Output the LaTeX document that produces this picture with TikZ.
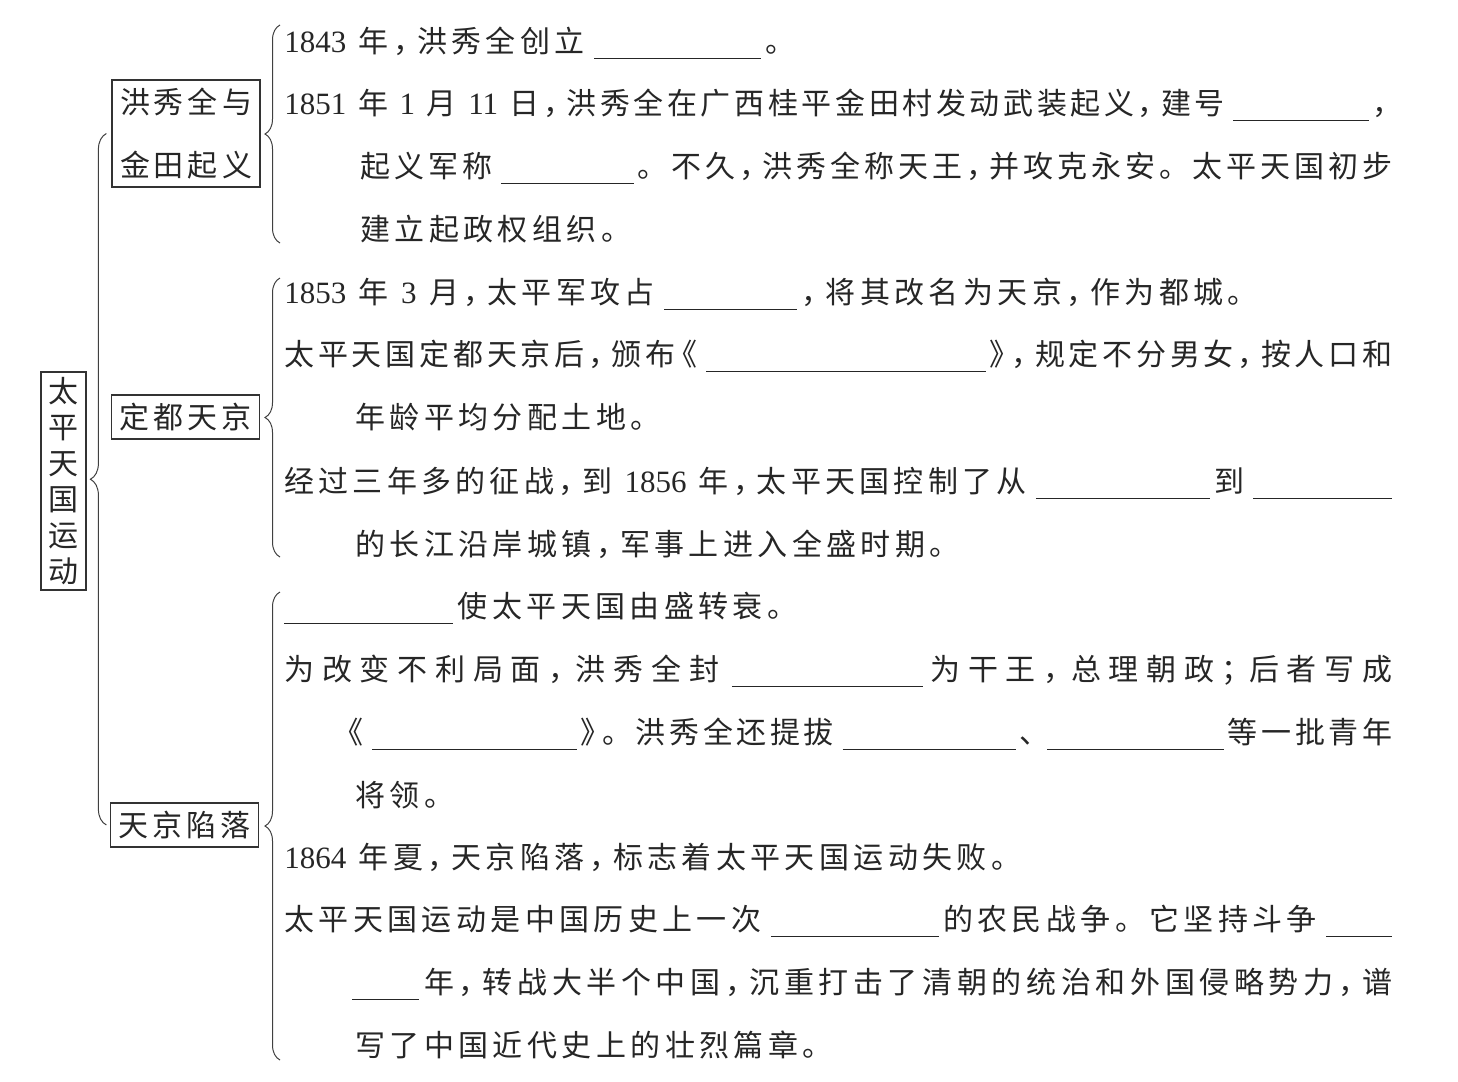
\documentclass[tikz,border=0pt]{standalone}
\usepackage{fontspec}
\setmainfont{Liberation Serif}
\newfontfamily\cjk{Noto Sans CJK SC}
\usetikzlibrary{decorations.pathreplacing, calc, positioning}
\NewDocumentCommand\numtxt{sm}{\IfBooleanF{#1}{\kern4pt}{\rmfamily\fontsize{15.5pt}{16pt}\selectfont #2}\kern4pt}
\NewDocumentCommand\blank{sm}{\IfBooleanF{#1}{\kern2.5pt}\rule[-3.5pt]{#2pt}{0.6pt}}
\newcommand\jline[2]{\makebox[#1pt][s]{\spaced[1.5pt]{#2}}}
\ExplSyntaxOn
\dim_new:N \l__tp_gap_dim
\NewDocumentCommand\spaced{O{2.2pt}m}
  {
    \group_begin:
    \dim_set:Nn \l__tp_gap_dim {#1}
    \tl_map_inline:nn {#2}
      {
        \str_case:nnF {##1}
          {
            {，}{\makebox[.65em][l]{，}}
            {；}{\makebox[.65em][l]{；}}
            {、}{\makebox[.65em][l]{、}}
            {《}{\makebox[.6em][r]{《}}
            {》}{\makebox[.6em][l]{》}}
          }
          {##1}
        \hskip \l__tp_gap_dim plus 1fil
      }
    \unskip
    \group_end:
  }
\ExplSyntaxOff

\begin{document}
\begin{tikzpicture}[
    x=0.5pt, y=-0.5pt,
    txt/.style={anchor=base west, inner sep=0pt, text=black!85, font=\cjk\fontsize{15pt}{18pt}\selectfont},
    topic/.style={draw=black!80, line width=0.6pt, minimum width=74pt, minimum height=22pt, inner sep=0pt, align=center, text=black!85, font=\cjk\fontsize{15pt}{31.5pt}\selectfont},
    brace/.style={decorate, decoration={brace, amplitude=7.5pt}, draw=black!75, line width=0.5pt},
]
    \useasboundingbox (0,0) rectangle (1458,1082);

    \node[topic, minimum width=22.5pt, minimum height=109pt, font=\cjk\fontsize{15pt}{18pt}\selectfont] (movement) at (63.5,481) {太\\平\\天\\国\\运\\动};
    \node[topic, minimum height=53.5pt] (jintian) at (186,133.5) {\spaced[2pt]{洪秀全与}\\\spaced[2pt]{金田起义}};
    \node[topic] (tianjing) at (185.5,417) {\spaced[2pt]{定都天京}};
    \node[topic] (fall) at (184.5,825) {\spaced[2pt]{天京陷落}};

    \node[txt] (t1) at (284,52) {\spaced{{\numtxt*{1843}}年，洪秀全创立{\blank{83.5}}。}};
    \node[txt] (t2) at (284,114) {\jline{554}{{\numtxt*{1851}}年{\numtxt{1}}月{\numtxt{11}}日，洪秀全在广西桂平金田村发动武装起义，建号{\blank{68}}，}};
    \node[txt] (t3) at (360,177) {\jline{516}{起义军称{\blank{66.5}}。不久，洪秀全称天王，并攻克永安。太平天国初步}};
    \node[txt] (t4) at (360,240) {\spaced{建立起政权组织。}};

    \node[txt] (t5) at (284,303) {\spaced{{\numtxt*{1853}}年{\numtxt{3}}月，太平军攻占{\blank{66.5}}，将其改名为天京，作为都城。}};
    \node[txt] (t6) at (284,365) {\jline{554}{太平天国定都天京后，颁布《{\blank{140}}》，规定不分男女，按人口和}};
    \node[txt] (t7) at (355,428) {\spaced{年龄平均分配土地。}};
    \node[txt] (t8) at (284,492) {\jline{554}{经过三年多的征战，到{\numtxt{1856}}年，太平天国控制了从{\blank{87}}到{\blank{69.5}}}};
    \node[txt] (t9) at (355,555) {\spaced{的长江沿岸城镇，军事上进入全盛时期。}};

    \node[txt] (t10) at (284,617) {\spaced{{\blank*{84.5}}使太平天国由盛转衰。}};
    \node[txt] (t11) at (284,680) {\jline{554}{为改变不利局面，洪秀全封{\blank{95.5}}为干王，总理朝政；后者写成}};
    \node[txt] (t12) at (345,743) {\jline{523.5}{《{\blank{102.5}}》。洪秀全还提拔{\blank{86.5}}、{\blank{88.5}}等一批青年}};
    \node[txt] (t13) at (355,806) {\spaced{将领。}};
    \node[txt] (t14) at (284,868) {\spaced{{\numtxt*{1864}}年夏，天京陷落，标志着太平天国运动失败。}};
    \node[txt] (t15) at (284,930) {\jline{554}{太平天国运动是中国历史上一次{\blank{84}}的农民战争。它坚持斗争{\blank{33}}}};
    \node[txt] (t16) at (352,993) {\jline{520}{{\blank*{33.5}}年，转战大半个中国，沉重打击了清朝的统治和外国侵略势力，谱}};
    \node[txt] (t17) at (355,1056) {\spaced{写了中国近代史上的壮烈篇章。}};

    \draw[brace, decoration={amplitude=8pt}] ($(jintian.west |- fall.west)+(-5,0)$) -- ($(jintian.west)+(-5,0)$);
    \draw[brace] ($(t1.base west |- t4.base west)+(-4,3)$) -- ($(t1.base west)+(-4,-27)$);
    \draw[brace] ($(t5.base west |- t9.base west)+(-4,2)$) -- ($(t5.base west)+(-4,-25)$);
    \draw[brace] ($(t10.base west |- t17.base west)+(-4,4)$) -- ($(t10.base west)+(-4,-25)$);
\end{tikzpicture}
\end{document}
